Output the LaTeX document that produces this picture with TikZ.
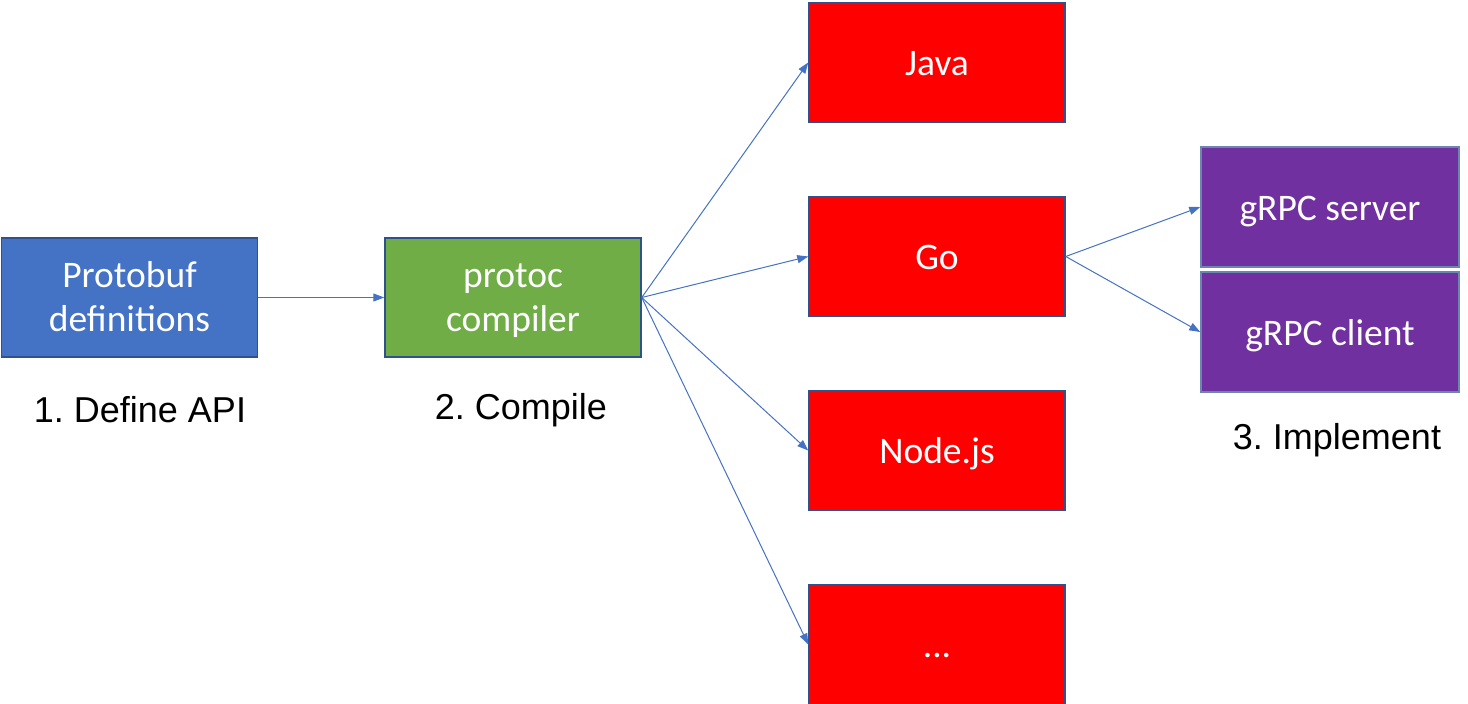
\documentclass[tikz,border=0pt]{standalone}
\usepackage{fontspec}
\setmainfont{Carlito}
\newfontfamily\labelfont{Liberation Sans}
\usetikzlibrary{arrows.meta}
\frenchspacing
\definecolor{boxblue}{HTML}{4472C4}
\definecolor{boxgreen}{HTML}{70AD47}
\definecolor{boxred}{HTML}{FF0000}
\definecolor{boxpurple}{HTML}{7030A0}
\definecolor{edgeblue}{HTML}{2F528F}
\tikzset{
  box/.style={draw=edgeblue, line width=1.5pt, text=white, align=center,
    minimum width=256pt, minimum height=119pt, inner sep=0pt,
    text height=26pt, text depth=0pt,
    font=\fontsize{37.5}{44}\selectfont},
  twoline/.style={text height=67pt, text depth=0pt},
  svcbox/.style={box, fill=boxpurple, draw=edgeblue!70,
    minimum width=258pt, minimum height=120pt},
  caption/.style={font=\labelfont\fontsize{36}{42}\selectfont},
  link/.style={-{Triangle[length=11pt,width=8pt]}, draw=boxblue, line width=1pt}
}
\begin{document}
\begin{tikzpicture}[x=1pt, y=-1pt]
      \useasboundingbox (0,0) rectangle (1468,704);
      \draw
        (129.5,297.5) node[box, twoline, fill=boxblue] (proto){Protobuf\\definitions}
        (513,297.5) node[box, twoline, fill=boxgreen] (protoc){protoc\\compiler}
        (937,62.5) node[box, fill=boxred] (java){Java}
        (937,256.5) node[box, fill=boxred] (go){Go}
        (937,450.5) node[box, fill=boxred] (node){Node.js}
        (937,644.5) node[box, fill=boxred] (more){...}
        (1330,207) node[svcbox] (server){gRPC server}
        (1330,332) node[svcbox] (client){gRPC client}
        (140,410) node[caption] (define){1. Define API}
        (521,410) node[caption] (compile){2. Compile}
        (1337,440) node[caption] (implement){3. Implement};
      \begin{scope}[link]
        \draw (proto) to (protoc);
        \draw (protoc.east) to (java.west);
        \draw (protoc.east) to (go.west);
        \draw (protoc.east) to (node.west);
        \draw (protoc.east) to (more.west);
        \draw (go.east) to (server.west);
        \draw (go.east) to (client.west);
      \end{scope}
    \end{tikzpicture}
\end{document}
